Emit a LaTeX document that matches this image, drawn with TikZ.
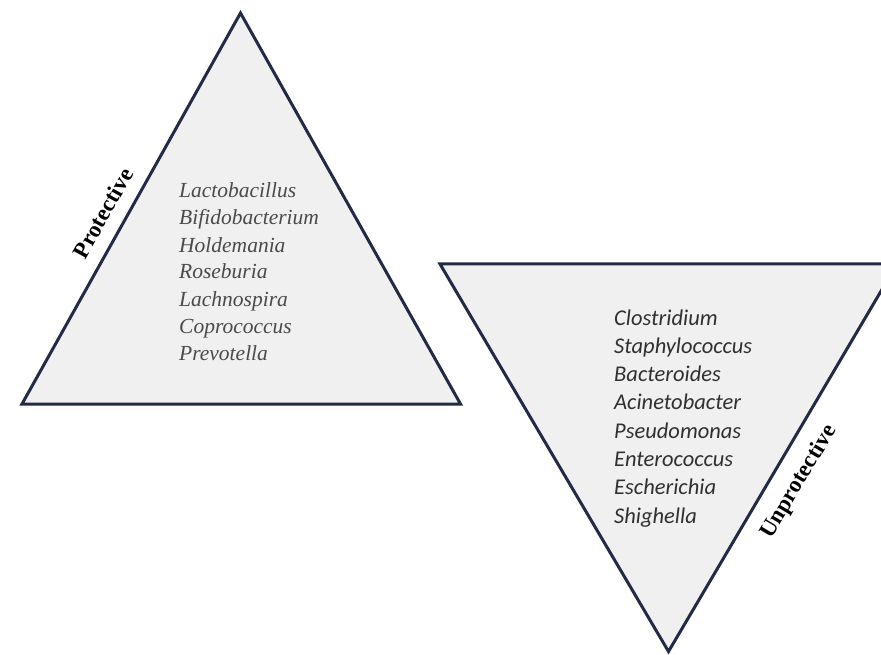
\documentclass[tikz,border=0pt]{standalone}
\usepackage{fontspec}
\setmainfont{Liberation Serif}
\newfontfamily\calib{Carlito}
\definecolor{edgec}{HTML}{222B45}
\definecolor{fillc}{HTML}{F0F0F0}
\definecolor{ltext}{HTML}{4A4A4A}
\definecolor{rtext}{HTML}{303030}
\begin{document}
\begin{tikzpicture}[x=1pt,y=-1pt,
  tri/.style={draw=edgec, line width=3pt, fill=fillc, line join=miter},
  ltxt/.style={anchor=base west, inner sep=0pt, text=ltext, font=\fontsize{21.5}{25}\selectfont\itshape},
  rtxt/.style={anchor=base west, inner sep=0pt, text=rtext, font=\calib\fontsize{22.5}{26}\selectfont\itshape},
  lab/.style={inner sep=0pt, text=black, font=\fontsize{23}{26}\selectfont\bfseries}]
\useasboundingbox (0,0) rectangle (881,655);
\clip (0,0) rectangle (881,655);
\coordinate (pa) at (240.5,13);
\coordinate (pl) at (22,404);
\coordinate (pr) at (460.5,404);
\coordinate (ql) at (440,264);
\coordinate (qr) at (897,264);
\coordinate (qb) at (668.5,651.5);
\draw[tri] (pa) -- (pl) -- (pr) -- cycle;
\draw[tri] (ql) -- (qr) -- (qb) -- cycle;
\foreach \t [count=\i from 0] in {Lactobacillus,Bifidobacterium,Holdemania,Roseburia,Lachnospira,Coprococcus,Prevotella}
  \node[ltxt] (p\i) at (179,198+27*\i) {\t};
\foreach \t [count=\i from 0] in {Clostridium,Staphylococcus,Bacteroides,Acinetobacter,Pseudomonas,Enterococcus,Escherichia,Shighella}
  \node[rtxt] (u\i) at (614,325+28.3*\i) {\t};
\node[lab, rotate=60.9] (lprot) at (103,213) {Protective};
\node[lab, rotate=59.1] (lunprot) at (799,482) {Unprotective};
\end{tikzpicture}
\end{document}
